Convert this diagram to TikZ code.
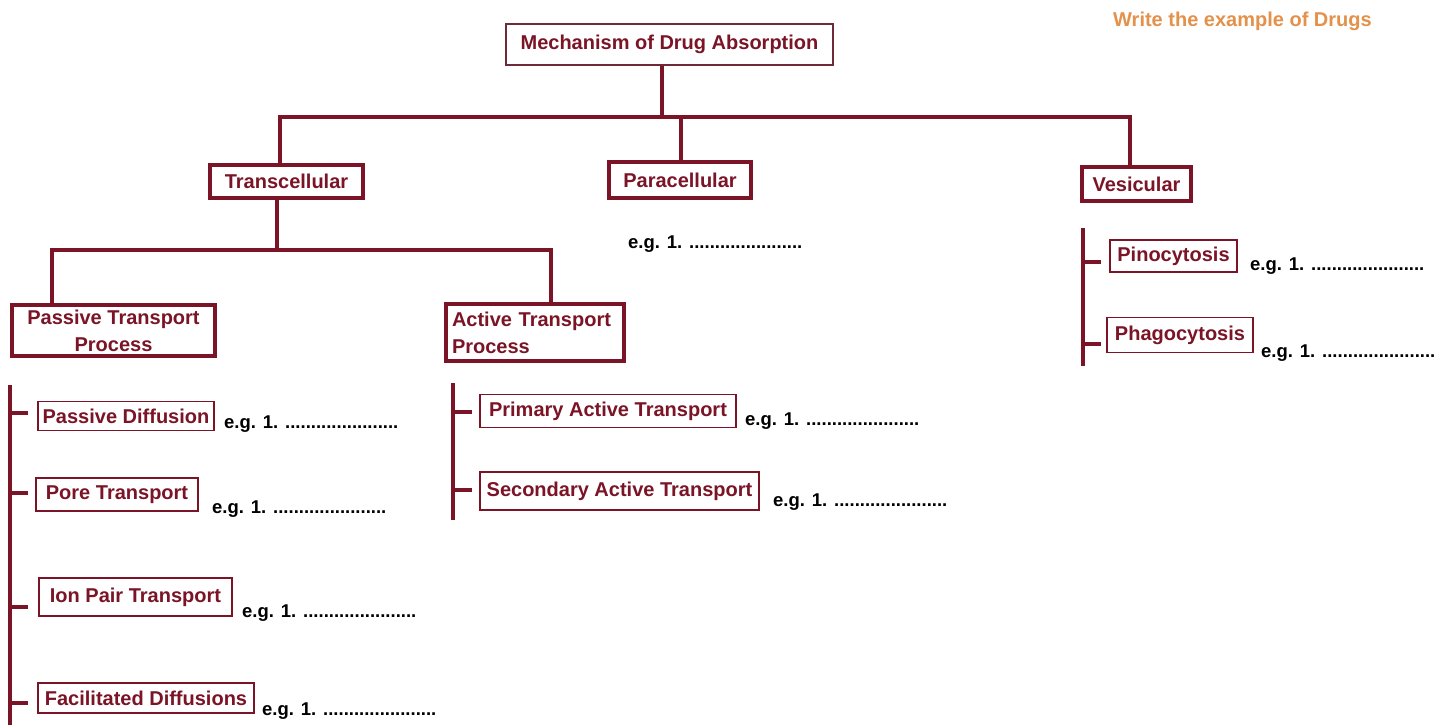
\documentclass[tikz,border=0pt]{standalone}
\usepackage{fontspec}
\setmainfont{Liberation Sans}
\definecolor{dred}{HTML}{7A1426}
\definecolor{bred}{HTML}{6E2A38}
\definecolor{ored}{HTML}{E3914B}
\tikzset{
  conn/.style={draw=dred, line width=4pt},
  bigbox/.style={draw=dred, line width=4pt, inner sep=0pt, text=dred, font=\fontsize{20}{27}\selectfont\bfseries},
  rootbox/.style={draw=bred, line width=1.8pt, inner sep=0pt, text=dred, font=\fontsize{20}{24}\selectfont\bfseries},
  smallbox/.style={draw=dred, line width=1.5pt, inner sep=0pt, text=dred, font=\fontsize{20}{24}\selectfont\bfseries},
  eg/.style={anchor=base west, inner sep=0pt, text=black, font=\fontsize{18.5}{22}\selectfont\bfseries},
  note/.style={anchor=base west, inner sep=0pt, text=ored, font=\fontsize{20}{24}\selectfont\bfseries}
}
\newcommand{\egtext}{e.g. 1. ......................}
\begin{document}
\begin{tikzpicture}[x=1pt,y=-1pt]
\useasboundingbox[fill=white] (0,0) rectangle (1452,725);

% title note
\node[note] (hint) at (1113,27) {Write the example of Drugs};

% level 0 and 1
\node[rootbox, minimum width=327pt, minimum height=41pt] (root) at (669.5,44.5) {Mechanism of Drug Absorption};
\node[bigbox, minimum width=153pt, minimum height=33pt] (trans) at (286.5,181.5) {Transcellular};
\node[bigbox, minimum width=142pt, minimum height=36pt] (para) at (680,180) {Paracellular};
\node[bigbox, minimum width=109pt, minimum height=34pt] (vesi) at (1136.5,184) {Vesicular};

\coordinate (j0) at (662,117);
\coordinate (jt) at (280,117);
\coordinate (jp) at (680.5,117);
\coordinate (jv) at (1130,117);
\draw[conn] (root.south -| j0) -- (j0);
\draw[conn] (trans.north -| jt) |- (jv) -- (vesi.north -| jv);
\draw[conn] (jp) -- (para.north -| jp);

\node[eg] (egpara) at (628,248) {\egtext};

% level 2
\node[bigbox, minimum width=203pt, minimum height=51pt, align=center] (ptp) at (113.5,330.5) {Passive Transport\\Process};
\node[bigbox, minimum width=178pt, minimum height=57pt, align=left, text width=166pt] (atp) at (535,332.5) {Active Transport\\Process};

\coordinate (k0) at (277,250);
\coordinate (kl) at (52,250);
\coordinate (kr) at (551,250);
\draw[conn] (trans.south -| k0) -- (k0);
\draw[conn] (ptp.north -| kl) |- (kr) -- (atp.north -| kr);

% passive children
\node[smallbox, minimum width=176pt, minimum height=29pt] (pd) at (126,416) {Passive Diffusion};
\node[smallbox, minimum width=162pt, minimum height=33pt] (pore) at (117,494.5) {Pore Transport};
\node[smallbox, minimum width=193pt, minimum height=38pt] (ion) at (135.5,597) {Ion Pair Transport};
\node[smallbox, minimum width=216pt, minimum height=30pt] (fac) at (146,698) {Facilitated Diffusions};

\node[eg] (egpd) at (224,428) {\egtext};
\node[eg] (egpore) at (212,513) {\egtext};
\node[eg] (egion) at (242,617) {\egtext};
\node[eg] (egfac) at (262,715) {\egtext};

\coordinate (pb1) at (10,385);
\coordinate (pb2) at (10,725);
\draw[conn] (pb1) -- (pb2);
\coordinate (pt1) at (28,413);
\coordinate (pt2) at (28,493);
\coordinate (pt3) at (28,607);
\coordinate (pt4) at (28,703);
\draw[conn] (pb1 |- pt1) -- (pt1);
\draw[conn] (pb1 |- pt2) -- (pt2);
\draw[conn] (pb1 |- pt3) -- (pt3);
\draw[conn] (pb1 |- pt4) -- (pt4);

% active children
\node[smallbox, minimum width=256pt, minimum height=33pt] (prim) at (608,411) {Primary Active Transport};
\node[smallbox, minimum width=279pt, minimum height=38pt] (sec) at (619.5,491) {Secondary Active Transport};
\node[eg] (egprim) at (745,425) {\egtext};
\node[eg] (egsec) at (773,506) {\egtext};

\coordinate (ab1) at (453,383);
\coordinate (ab2) at (453,520);
\draw[conn] (ab1) -- (ab2);
\coordinate (at1) at (472,412);
\coordinate (at2) at (472,490);
\draw[conn] (ab1 |- at1) -- (at1);
\draw[conn] (ab1 |- at2) -- (at2);

% vesicular children
\node[smallbox, minimum width=127pt, minimum height=32pt] (pino) at (1173.5,256) {Pinocytosis};
\node[smallbox, minimum width=146pt, minimum height=35pt] (phago) at (1180,335) {Phagocytosis};
\node[eg] (egpino) at (1250,270) {\egtext};
\node[eg] (egphago) at (1261,357) {\egtext};

\coordinate (vb1) at (1083,228);
\coordinate (vb2) at (1083,366);
\draw[conn] (vb1) -- (vb2);
\coordinate (vt1) at (1101,262);
\coordinate (vt2) at (1101,344);
\draw[conn] (vb1 |- vt1) -- (vt1);
\draw[conn] (vb1 |- vt2) -- (vt2);
\end{tikzpicture}
\end{document}
